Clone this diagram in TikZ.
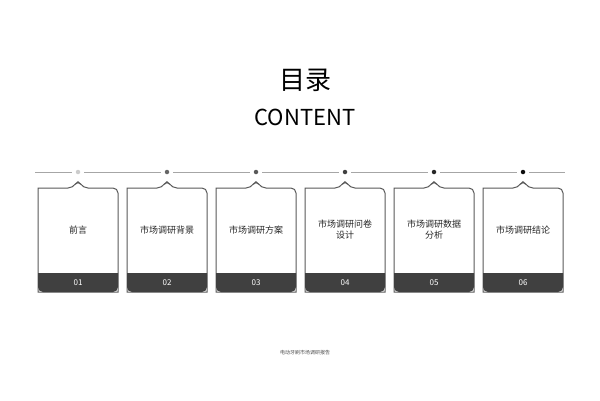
\documentclass[tikz,border=0pt]{standalone}
\usepackage{fontspec}
\setmainfont{Noto Sans CJK SC}
\begin{document}
\begin{tikzpicture}[x=1pt,y=-1pt,
  card/.style={draw=black!65,line width=1pt,fill=white,rounded corners=5pt},
  band/.style={fill=black!75,rounded corners=5pt},
  cardtext/.style={font=\fontsize{9}{11}\selectfont,text=black!85,align=center},
  numtext/.style={font=\fontsize{8}{9}\selectfont,text=white}]
\useasboundingbox (0,0) rectangle (600,400);
% title
\node (title) at (305,80) {\fontsize{26}{30}\selectfont 目录};
\node (sub) at (305,117) {\fontsize{22}{26}\selectfont CONTENT};
% timeline
\draw[black!35,line width=0.8pt] (35,172) -- (565,172);
\foreach \i/\lbl/\shade in {1/前言/20,2/市场调研背景/60,3/市场调研方案/65,4/{市场调研问卷\\设计}/75,5/{市场调研数据\\分析}/85,6/市场调研结论/95}{
  \pgfmathsetmacro{\cx}{78+89*(\i-1)}
  \fill[white] (\cx-6,172) rectangle (\cx+6,173);
  \node[circle,fill=black!\shade,inner sep=0pt,minimum size=4.5pt] (dot\i) at (\cx,172) {};
  % card with notch
  \draw[card] (\cx-40,188) -- (\cx-5,188) -- (\cx,180) -- (\cx+5,188) -- (\cx+40,188)
     [sharp corners] -- (\cx+40,292) -- (\cx-40,292) -- cycle;
  \path[band] (\cx-40,273) [sharp corners] -- (\cx+40,273) [rounded corners=5pt] -- (\cx+40,292) -- (\cx-40,292) [sharp corners] -- cycle;
  \node[cardtext] (card\i) at (\cx,230) {\lbl};
  \node[numtext] (num\i) at (\cx,282.5) {0\i};
}
% footer
\node[font=\fontsize{5}{6}\selectfont,text=black!70] (foot) at (305,353) {电动牙刷市场调研报告};
\end{tikzpicture}
\end{document}
